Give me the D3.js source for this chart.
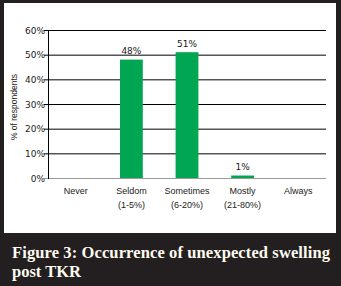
<!DOCTYPE html>
<html><head><meta charset="utf-8">
<script src="https://cdn.jsdelivr.net/npm/d3@7"></script>
<style>body{margin:0;background:#fff}svg{display:block}</style>
</head><body>
<script>
const categories = ["Never", "Seldom", "Sometimes", "Mostly", "Always"];
const subLabels = ["", "(1-5%)", "(6-20%)", "(21-80%)", ""];
const values = [0, 48, 51, 1, 0];
const valueLabels = ["", "48%", "51%", "1%", ""];
const yTicks = [0, 10, 20, 30, 40, 50, 60];
const captionLines = ["Figure 3: Occurrence of unexpected swelling", "post TKR"];

const W = 341, H = 286;
const svg = d3.select("body").append("svg").attr("width", W).attr("height", H);
const dark = "#231f20";
svg.append("rect").attr("width", W).attr("height", H).attr("fill", dark);
svg.append("rect").attr("x", 4).attr("y", 3).attr("width", 332).attr("height", 230).attr("fill", "#fff");

const m = {left: 48, right: 326, top: 30, bottom: 178};
const x = d3.scaleBand().domain(categories).range([m.left, m.right]).paddingInner(0.59).paddingOuter(0.295);
const y = d3.scaleLinear().domain([0, 60]).range([m.bottom, m.top]);
const numFont = "DejaVu Sans, Verdana, sans-serif";
const sansFont = "Liberation Sans, Arial, sans-serif";

// gridlines
svg.append("g").selectAll("line").data(yTicks).join("line")
  .attr("x1", m.left - 4).attr("x2", m.right)
  .attr("y1", d => y(d) + 0.5).attr("y2", d => y(d) + 0.5)
  .attr("stroke", d => d === 0 ? "#9a9a9a" : "#000").attr("stroke-width", 1);
svg.append("line").attr("x1", m.left + 0.5).attr("x2", m.left + 0.5)
  .attr("y1", m.top).attr("y2", m.bottom + 1).attr("stroke", "#000");

// y tick labels
svg.append("g").selectAll("text").data(yTicks).join("text")
  .attr("x", m.left - 3).attr("y", d => y(d) + 3.5)
  .attr("text-anchor", "end").attr("font-family", numFont)
  .attr("font-size", 9).attr("fill", "#222").text(d => d + "%");

svg.append("text").attr("transform", `translate(17,${(m.top + m.bottom) / 2 + 3}) rotate(-90)`)
  .attr("text-anchor", "middle").attr("font-family", sansFont)
  .attr("font-size", 8.5).attr("fill", "#222").text("% of respondents");

// bars
svg.append("g").selectAll("rect").data(values).join("rect")
  .attr("x", (d, i) => x(categories[i])).attr("width", x.bandwidth())
  .attr("y", d => y(d)).attr("height", d => y(0) - y(d))
  .attr("fill", "#00a651");

svg.append("g").selectAll("text").data(values).join("text")
  .attr("x", (d, i) => x(categories[i]) + x.bandwidth() / 2)
  .attr("y", d => y(d) - 5.5)
  .attr("text-anchor", "middle").attr("font-family", numFont)
  .attr("font-size", 9).attr("fill", "#222").text((d, i) => valueLabels[i]);

// category labels
const cat = svg.append("g").attr("font-family", sansFont)
  .attr("font-size", 9).attr("fill", "#222").attr("text-anchor", "middle");
cat.selectAll("text.c").data(categories).join("text").attr("class", "c")
  .attr("x", d => x(d) + x.bandwidth() / 2).attr("y", 194).text(d => d);
cat.selectAll("text.s").data(subLabels).join("text").attr("class", "s")
  .attr("x", (d, i) => x(categories[i]) + x.bandwidth() / 2).attr("y", 207.5).text(d => d);

// caption
svg.append("text").attr("x", 12).attr("y", 258)
  .attr("font-family", "Liberation Serif, Times New Roman, serif").attr("font-weight", "bold")
  .attr("font-size", 16.5).attr("fill", "#fdfbee")
  .attr("textLength", 318).attr("lengthAdjust", "spacing").text(captionLines[0]);
svg.append("text").attr("x", 12).attr("y", 277)
  .attr("font-family", "Liberation Serif, Times New Roman, serif").attr("font-weight", "bold")
  .attr("font-size", 16.5).attr("fill", "#fdfbee").text(captionLines[1]);
</script>
</body></html>
